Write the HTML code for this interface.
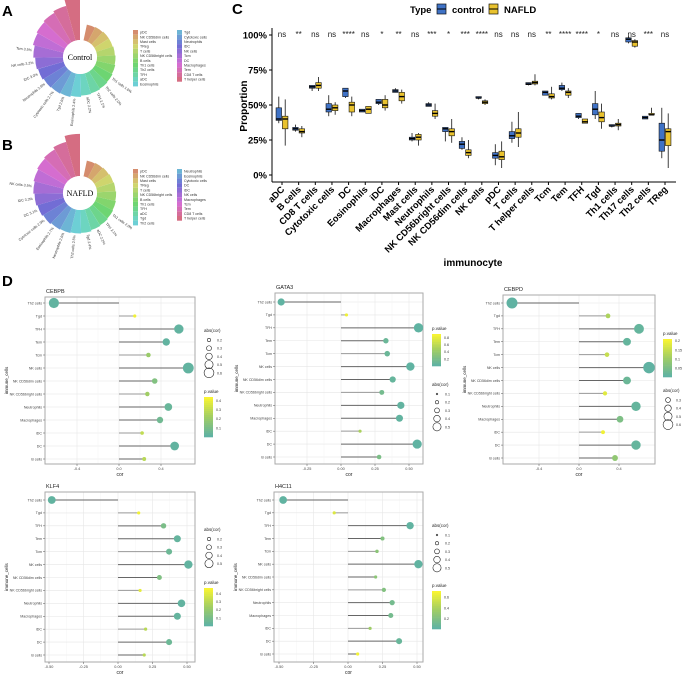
<!DOCTYPE html>
<html><head><meta charset="utf-8"><style>
html,body{margin:0;padding:0;background:#fff;}
svg{display:block;font-family:"Liberation Sans",sans-serif;}
</style></head><body>
<svg id="fig" width="682" height="675" viewBox="0 0 682 675" xmlns="http://www.w3.org/2000/svg"></svg>
<script>
// ---------- Panel C data ----------
const cCategories=["aDC","B cells","CD8 T cells","Cytotoxic cells","DC","Eosinophils","iDC","Macrophages","Mast cells","Neutrophils","NK CD56bright cells","NK CD56dim cells","NK cells","pDC","T cells","T helper cells","Tcm","Tem","TFH","Tgd","Th1 cells","Th17 cells","Th2 cells","TReg"];
const cSignif=["ns","**","ns","ns","****","ns","*","**","ns","***","*","***","****","ns","ns","ns","**","****","****","*","ns","ns","***","ns"];
// [lo,q1,med,q3,hi]
const controlBoxes=[[37,39,40,48,56],[31,32,33,34,36],[60,62,63,64,64],[42,45,47,51,57],[55,56,60,62,62],[45,45,46,47,47],[50,51,52,54,54],[59,59,60,61,62],[24,25,26,27,30],[49,49,50,51,52],[24,31,33,34,34],[18,19,22,24,27],[54,55,55,56,56],[7,12,14,16,22],[23,26,28,31,38],[64,64.5,65,66,66],[57,57,59,60,60],[60,61,62,64,66],[40,41,42,44,44],[40,43,47,51,60],[34,35,35,36,36],[94,95,97,98,99],[40,40,41,42,42],[12,17,25,37,48]];
const nafldBoxes=[[21,33,40,42,54],[27,30,31,33,35],[60,62,64,66,70],[43,46,48,50,52],[42,45,50,52,56],[44,44,47,49,49],[46,48,50,54,57],[51,53,56,59,61],[21,25,27,29,30],[40,42,44,46,51],[23,28,31,33,40],[12,14,16,18,25],[50,51,52,53,54],[5,11,13,17,24],[20,27,30,33,45],[64,65,66,67,72],[54,55,56,58,63],[55,57,59,60,62],[37,37,38,40,40],[33,38,41,45,51],[32,35,36,37,40],[91,92,95,96,97],[43,43,43,44,48],[5,21,31,33,44]];
const cYTicks=[0,25,50,75,100];
const cYTickLabels=["0%","25%","50%","75%","100%"];

// ---------- Panels A/B data ----------
const aLegendNames=["pDC","NK CD56dim cells","Mast cells","TReg","T cells","NK CD56bright cells","B cells","Th1 cells","Th2 cells","TFH","aDC","Eosinophils","Tgd","Cytotoxic cells","Neutrophils","iDC","NK cells","Tcm","DC","Macrophages","Tem","CD8 T cells","T helper cells"];
const aValues=[13,14,15,15,16,17,18,19,20,21,22,24,26,27,28,30,32,35,38,40,42,45,55];
const bLegendNames=["pDC","NK CD56dim cells","Mast cells","TReg","T cells","NK CD56bright cells","B cells","Th1 cells","TFH","aDC","Tgd","Th2 cells","Neutrophils","Eosinophils","Cytotoxic cells","DC","iDC","NK cells","Macrophages","Tcm","Tem","CD8 T cells","T helper cells"];
const bValues=[13,14,15,16,17,18,19,20,21,22,24,25,26,27,29,31,33,35,37,39,41,45,55];

// ---------- Panel D data ----------
const dCells=["Th2 cells","Tgd","TFH","Tem","Tcm","NK cells","NK CD56dim cells","NK CD56bright cells","Neutrophils","Macrophages","iDC","DC","B cells"];
const cebpbCor=[-0.62,0.15,0.57,0.45,0.28,0.66,0.34,0.27,0.47,0.39,0.22,0.53,0.24];
const cebpbP=[0.01,0.42,0.01,0.01,0.2,0.01,0.12,0.22,0.03,0.06,0.3,0.01,0.28];
const gata3Cor=[-0.44,0.04,0.57,0.33,0.34,0.51,0.38,0.30,0.44,0.43,0.14,0.56,0.28];
const gata3P=[0.01,0.85,0.01,0.08,0.08,0.01,0.05,0.15,0.02,0.02,0.5,0.01,0.2];
const cebpdCor=[-0.67,0.29,0.60,0.48,0.28,0.70,0.48,0.26,0.57,0.41,0.24,0.57,0.36];
const cebpdP=[0.001,0.12,0.01,0.01,0.15,0.001,0.02,0.18,0.01,0.05,0.2,0.01,0.08];
const klf4Cor=[-0.48,0.15,0.33,0.43,0.37,0.51,0.30,0.16,0.46,0.43,0.20,0.37,0.19];
const klf4P=[0.01,0.45,0.1,0.02,0.05,0.01,0.12,0.42,0.01,0.02,0.3,0.05,0.3];
const h4c11Cor=[-0.47,-0.10,0.45,0.25,0.21,0.51,0.20,0.26,0.32,0.31,0.16,0.37,0.07];
const h4c11P=[0.01,0.6,0.01,0.2,0.25,0.01,0.25,0.2,0.12,0.12,0.35,0.05,0.7];

const NS="http://www.w3.org/2000/svg";
const svg=document.getElementById('fig');
function mk(tag,attrs,parent,txt){const e=document.createElementNS(NS,tag);for(const k in attrs)e.setAttribute(k,attrs[k]);if(txt!==undefined)e.textContent=txt;(parent||svg).appendChild(e);return e;}
function grp(name,parent){const g=mk('g',{},parent);return g;}

// panel letters
[["A",2,16],["B",2,150],["C",232,14],["D",2,286]].forEach(p=>{const t=mk('text',{x:p[1],y:p[2],'font-size':15,'font-weight':'bold'},svg,p[0]);});

// ---------- Panels A/B radial ----------
function hue(i,n){return 'hsl('+(18+330*i/(n-1))+',55%,63%)';}
function radial(name,cx,cy,vals,names,label,legX,legY){
  const g=grp(name);
  const n=vals.length,start=12,span=348,inner=17;
  const rScale=v=>inner+8+v*0.62;
  for(let i=0;i<n;i++){
    const a0=(start+span*i/n)*Math.PI/180,a1=(start+span*(i+1)/n)*Math.PI/180;
    const r=rScale(vals[i]);
    const p=`M${cx+inner*Math.sin(a0)},${cy-inner*Math.cos(a0)} L${cx+r*Math.sin(a0)},${cy-r*Math.cos(a0)} A${r},${r} 0 0 1 ${cx+r*Math.sin(a1)},${cy-r*Math.cos(a1)} L${cx+inner*Math.sin(a1)},${cy-inner*Math.cos(a1)} A${inner},${inner} 0 0 0 ${cx+inner*Math.sin(a0)},${cy-inner*Math.cos(a0)}Z`;
    const s=mk('path',{d:p,fill:hue(i,n)},g);
    
    
    if(i>=7&&i<18){
      const am=(a0+a1)/2,rr=r+2;
      const x=cx+rr*Math.sin(am),y=cy-rr*Math.cos(am);
      const deg=am*180/Math.PI-90;
      const flip=deg>90;
      const t=mk('text',{x:x,y:y,'font-size':3.6,'text-anchor':flip?'end':'start',transform:`rotate(${flip?deg-180:deg},${x},${y})`,fill:'#333'},g,names[i]+' '+(vals[i]/10).toFixed(1)+'%');
      
      
    }
  }
  mk('circle',{cx:cx,cy:cy,r:inner,fill:'#fff'},g);
  mk('text',{x:cx,y:cy+3,'font-size':8,'text-anchor':'middle','font-family':'Liberation Serif'},g,label);
  const lg=grp(name+'-legend');
  names.forEach((nm,i)=>{
    const col=i<12?0:1,row=i<12?i:i-12;
    const x=legX+col*44,y=legY+row*4.7;
    mk('rect',{x:x,y:y,width:5,height:4.7,fill:hue(i,names.length)},lg);
    const t=mk('text',{x:x+7,y:y+3.6,'font-size':3.6,fill:'#333'},lg,nm);
    
    
  });
}
radial('radial-chart-control',80,57,aValues,aLegendNames,'Control',133,30);
radial('radial-chart-nafld',80,193,bValues,bLegendNames,'NAFLD',133,169);

// ---------- Panel C box plot ----------
(function(){
  const g=grp('boxplot-panel');
  const x0=282,step=(665-282)/23;
  const xS=i=>x0+i*step, yS=v=>175-1.4*v;
  mk('line',{x1:272,y1:28,x2:272,y2:182,stroke:'#000','stroke-width':1},g);
  mk('line',{x1:272,y1:182,x2:676,y2:182,stroke:'#000','stroke-width':1},g);
  cYTicks.forEach((v,i)=>{
    mk('line',{x1:269,x2:272,y1:yS(v),y2:yS(v),stroke:'#000'},g);
    const t=mk('text',{x:267,y:yS(v)+3.5,'font-size':9.5,'font-weight':'bold','text-anchor':'end'},g,cYTickLabels[i]);
    
  });
  const yl=mk('text',{x:247,y:106,'font-size':10,'font-weight':'bold','text-anchor':'middle',transform:'rotate(-90,247,106)'},g,'Proportion');
  
  const xt=mk('text',{x:473,y:266,'font-size':10,'font-weight':'bold','text-anchor':'middle'},g,'immunocyte');
  
  function box(b,cx,fill,name){
    const w=5.5;
    const bg=grp(name,g);
    mk('line',{x1:cx,x2:cx,y1:yS(b[0]),y2:yS(b[4]),stroke:'#111','stroke-width':0.8},bg);
    mk('rect',{x:cx-w/2,y:yS(b[3]),width:w,height:Math.max(1,yS(b[1])-yS(b[3])),fill:fill,stroke:'#111','stroke-width':0.6},bg);
    mk('line',{x1:cx-w/2,x2:cx+w/2,y1:yS(b[2]),y2:yS(b[2]),stroke:'#000','stroke-width':1.4},bg);
  }
  cCategories.forEach((c,i)=>{
    const cx=xS(i);
    mk('line',{x1:cx,x2:cx,y1:182,y2:185,stroke:'#000'},g);
    box(controlBoxes[i],cx-3.2,'#3f72c6','box-control');
    box(nafldBoxes[i],cx+3.2,'#e9c22e','box-nafld');
    const s=mk('text',{x:cx,y:37,'font-size':8,'text-anchor':'middle',fill:'#222'},g,cSignif[i]);
    
    const t=mk('text',{x:cx+3,y:190,'font-size':9.3,'font-weight':'bold','text-anchor':'end',transform:`rotate(-45,${cx+3},190)`},g,c);
    
  });
  const lg=grp('legend',g);
  mk('text',{x:410,y:13,'font-size':9.5,'font-weight':'bold'},lg,'Type');
  mk('rect',{x:437,y:4,width:9,height:10,fill:'#3f72c6',stroke:'#111','stroke-width':0.7},lg);
  mk('line',{x1:437,x2:446,y1:9,y2:9,stroke:'#000'},lg);
  mk('text',{x:452,y:13,'font-size':9.5,'font-weight':'bold'},lg,'control');
  mk('rect',{x:489,y:4,width:9,height:10,fill:'#e9c22e',stroke:'#111','stroke-width':0.7},lg);
  mk('line',{x1:489,x2:498,y1:9,y2:9,stroke:'#000'},lg);
  mk('text',{x:504,y:13,'font-size':9.5,'font-weight':'bold'},lg,'NAFLD');
})();

// ---------- Panel D lollipops ----------
function pcol(t){ // t 0..1 teal->yellow
  const a=[95,178,163],m=[160,205,100],b=[248,244,50];
  let c;if(t<0.5){const u=t*2;c=a.map((v,i)=>v+(m[i]-v)*u);}else{const u=(t-0.5)*2;c=m.map((v,i)=>v+(b[i]-v)*u);}
  return `rgb(${c.map(Math.round).join(',')})`;
}
function lollipop(o){
  const g=grp('lollipop-'+o.title.toLowerCase());
  const {L,T,R,B}=o;
  const xS=c=>o.zx+c*o.ppu;
  const yS=i=>o.y0+i*(o.y1-o.y0)/12;
  mk('rect',{x:L,y:T,width:R-L,height:B-T,fill:'#fff'},g);
  o.ticks.forEach(tv=>{mk('line',{x1:xS(tv),x2:xS(tv),y1:T,y2:B,stroke:'#e6e6e6','stroke-width':0.6},g);});
  for(let k=0;k<o.ticks.length-1;k++){const m=(o.ticks[k]+o.ticks[k+1])/2;mk('line',{x1:xS(m),x2:xS(m),y1:T,y2:B,stroke:'#f2f2f2','stroke-width':0.4},g);}
  dCells.forEach((c,i)=>{mk('line',{x1:L,x2:R,y1:yS(i),y2:yS(i),stroke:'#e6e6e6','stroke-width':0.6},g);});
  mk('rect',{x:L,y:T,width:R-L,height:B-T,fill:'none',stroke:'#aaa','stroke-width':1},g);
  const tt=mk('text',{x:L+1,y:T-4,'font-size':5.5,fill:'#222'},g,o.title);
  
  dCells.forEach((c,i)=>{
    const lbl=mk('text',{x:L-3,y:yS(i)+1.3,'font-size':3.6,'text-anchor':'end',fill:'#444'},g,c);
    
    mk('line',{x1:L-2,x2:L,y1:yS(i),y2:yS(i),stroke:'#555','stroke-width':0.5},g);
    const ln=mk('line',{x1:xS(0),x2:xS(o.cor[i]),y1:yS(i),y2:yS(i),stroke:(i%3==1?'#999':'#666'),'stroke-width':1},g);
    
    const r=Math.max(1.6,Math.abs(o.cor[i])*8.2);
    const dot=mk('circle',{cx:xS(o.cor[i]),cy:yS(i),r:r,fill:pcol(o.p[i]/o.pLegMax)},g);
    
  });
  o.ticks.forEach((tv,k)=>{
    mk('line',{x1:xS(tv),x2:xS(tv),y1:B,y2:B+2,stroke:'#555','stroke-width':0.5},g);
    const t=mk('text',{x:xS(tv),y:B+6,'font-size':3.8,'text-anchor':'middle',fill:'#444'},g,o.tickLabels[k]);
    
  });
  mk('text',{x:(L+R)/2,y:B+12,'font-size':5,'text-anchor':'middle',fill:'#222'},g,'cor');
  const yl=mk('text',{x:L-37,y:(T+B)/2,'font-size':4.5,'text-anchor':'middle',transform:`rotate(-90,${L-37},${(T+B)/2})`,fill:'#222'},g,'immune_cells');
  
  const lx=o.legX;
  function sizeLeg(y){
    const lg=grp('size-legend',g);
    mk('text',{x:lx,y:y,'font-size':4.5,fill:'#222'},lg,'abs(cor)');
    o.sizes.forEach((s,k)=>{const cy=y+8+k*8.2;mk('circle',{cx:lx+5,cy:cy,r:s*8.2,fill:'none',stroke:'#222','stroke-width':0.6},lg);mk('text',{x:lx+13,y:cy+1.5,'font-size':3.6,fill:'#333'},lg,s.toFixed(1));});
  }
  function colLeg(y){
    const lg=grp('color-legend',g);
    mk('text',{x:lx,y:y,'font-size':4.5,fill:'#222'},lg,'p.value');
    const h=o.barH;
    for(let k=0;k<20;k++){mk('rect',{x:lx,y:y+4+h*k/20,width:9,height:h/20+0.3,fill:pcol(1-k/19)},lg);}
    o.pTicks.forEach(pv=>{const yy=y+4+h*(1-pv/o.pLegMax);mk('text',{x:lx+12,y:yy+1.4,'font-size':3.6,fill:'#333'},lg,String(pv));});
  }
  if(o.sizeFirst){sizeLeg(o.legY1);colLeg(o.legY2);}else{colLeg(o.legY1);sizeLeg(o.legY2);}
}
lollipop({title:'CEBPB',L:45,T:297,R:195,B:464,zx:119,ppu:105,y0:303,y1:459,cor:cebpbCor,p:cebpbP,ticks:[-0.4,0,0.4],tickLabels:['-0.4','0.0','0.4'],legX:204,legY1:332,legY2:393,sizeFirst:true,sizes:[0.2,0.3,0.4,0.5,0.6],pTicks:[0.1,0.2,0.3,0.4],pLegMax:0.44,barH:40});
lollipop({title:'GATA3',L:275,T:293,R:423,B:464,zx:341,ppu:136,y0:302,y1:457,cor:gata3Cor,p:gata3P,ticks:[-0.25,0,0.25,0.5],tickLabels:['-0.25','0.00','0.25','0.50'],legX:432,legY1:330,legY2:386,sizeFirst:false,sizes:[0.1,0.2,0.3,0.4,0.5],pTicks:[0.2,0.4,0.6,0.8],pLegMax:0.9,barH:32});
lollipop({title:'CEBPD',L:503,T:295,R:655,B:464,zx:579,ppu:100,y0:303,y1:458,cor:cebpdCor,p:cebpdP,ticks:[-0.4,0,0.4],tickLabels:['-0.4','0.0','0.4'],legX:663,legY1:335,legY2:392,sizeFirst:false,sizes:[0.3,0.4,0.5,0.6],pTicks:[0.05,0.1,0.15,0.2],pLegMax:0.21,barH:38});
lollipop({title:'KLF4',L:45,T:492,R:195,B:662,zx:118,ppu:138,y0:500,y1:655,cor:klf4Cor,p:klf4P,ticks:[-0.5,-0.25,0,0.25,0.5],tickLabels:['-0.50','-0.25','0.00','0.25','0.50'],legX:204,legY1:531,legY2:584,sizeFirst:true,sizes:[0.2,0.3,0.4,0.5],pTicks:[0.1,0.2,0.3,0.4],pLegMax:0.47,barH:38});
lollipop({title:'H4C11',L:274,T:492,R:423,B:662,zx:348,ppu:138,y0:500,y1:654,cor:h4c11Cor,p:h4c11P,ticks:[-0.5,-0.25,0,0.25,0.5],tickLabels:['-0.50','-0.25','0.00','0.25','0.50'],legX:432,legY1:527,legY2:587,sizeFirst:true,sizes:[0.1,0.2,0.3,0.4,0.5],pTicks:[0.2,0.4,0.6],pLegMax:0.72,barH:38});
</script>
</body></html>
